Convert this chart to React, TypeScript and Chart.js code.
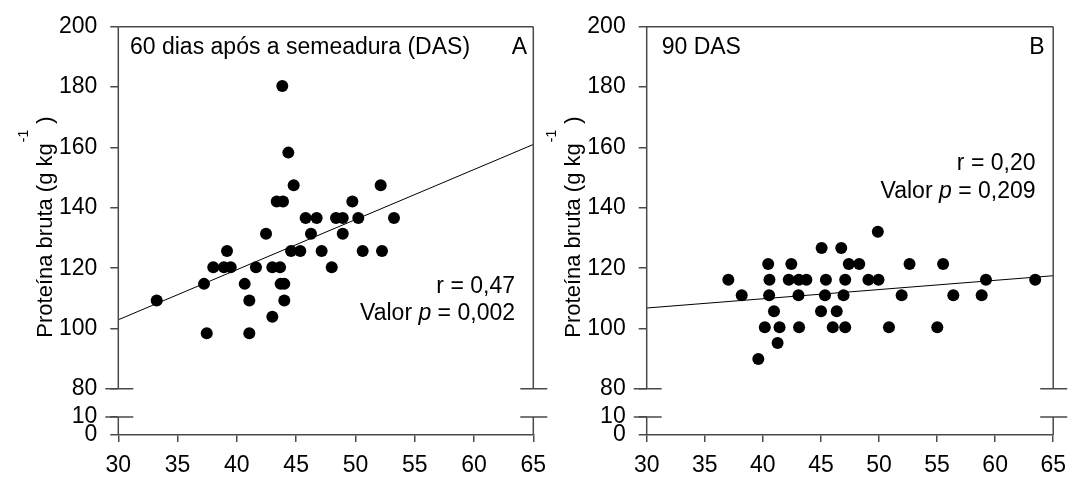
import React, { useEffect, useRef } from 'react';
import { Chart, registerables, LinearScale } from 'chart.js';

Chart.register(...registerables);

// ---- data ----
const X_TICKS = [30, 35, 40, 45, 50, 55, 60, 65];
const Y_TICKS = [0, 10, 80, 100, 120, 140, 160, 180, 200];
const Y_BREAK = [10, 80];

const xA = [43.83, 44.34, 44.79, 52.13, 43.36, 43.89, 49.74, 45.8, 46.73, 48.36, 48.93, 50.24, 53.25,
  42.46, 46.25, 48.93, 39.17, 44.57, 45.35, 47.15, 50.61, 52.24, 38.01, 38.91, 39.48, 41.61, 42.99,
  43.64, 48.0, 37.23, 40.66, 43.69, 44.0, 33.24, 41.05, 44.0, 42.99, 37.46, 41.05];
const yA = [180.4, 158.3, 147.5, 147.5, 142.1, 142.1, 142.1, 136.6, 136.6, 136.6, 136.6, 136.6, 136.6,
  131.4, 131.4, 131.4, 125.7, 125.7, 125.7, 125.7, 125.7, 125.7, 120.3, 120.3, 120.3, 120.3, 120.3,
  120.3, 120.3, 114.8, 114.8, 114.8, 114.8, 109.3, 109.3, 109.3, 103.9, 98.4, 98.4];
const fitXA = [30, 65];
const fitYA = [102.9, 161.0];

const xB = [49.9, 45.06, 46.75, 40.46, 42.45, 47.4, 48.3, 52.63, 55.52,
  37.03, 40.57, 42.23, 43.1, 43.75, 45.43, 47.09, 49.09, 49.96, 59.21, 63.45,
  38.18, 40.54, 43.07, 45.35, 46.95, 51.95, 56.4, 58.84,
  40.96, 45.01, 46.36, 40.17, 41.44, 43.12, 46.02, 47.09, 50.86, 55.02, 41.27, 39.61];
const yB = [132.1, 126.7, 126.7, 121.4, 121.4, 121.4, 121.4, 121.4, 121.4,
  116.2, 116.2, 116.2, 116.2, 116.2, 116.2, 116.2, 116.2, 116.2, 116.2, 116.2,
  111.0, 111.0, 111.0, 111.0, 111.0, 111.0, 111.0, 111.0,
  105.7, 105.7, 105.7, 100.4, 100.4, 100.4, 100.4, 100.4, 100.4, 100.4, 95.2, 89.9];
const fitXB = [30, 65];
const fitYB = [106.8, 117.5];

const Y_TITLE = 'Proteína bruta (g kg';
const Y_TITLE_SUP = '-1';
const Y_TITLE_END = ' )';

// ---- styles ----
const FONT = '"Liberation Sans", Arial, Helvetica, sans-serif';
const FS = 23;
const AX = '#4a4a4a';
const AXW = 1.5;

// Broken y scale: 0-10 at the bottom, gap, 80-200 above
const LOW_FRAC = 0.0443;
const GAP_FRAC = 0.0687;

class BrokenScale extends LinearScale {
  static id = 'brokenLinear';
  static defaults = (LinearScale as any).defaults;
  getPixelForValue(value: number) {
    if (value === null || value === undefined || isNaN(value)) return NaN;
    const top = (this as any).top;
    const bottom = (this as any).bottom;
    const H = bottom - top;
    const lowH = H * LOW_FRAC;
    const gapH = H * GAP_FRAC;
    const upH = H - lowH - gapH;
    const [b0, b1] = Y_BREAK;
    const mx = (this as any).max;
    if (value <= b0) return bottom - (value / b0) * lowH;
    if (value >= b1) return bottom - lowH - gapH - ((value - b1) / (mx - b1)) * upH;
    return bottom - lowH - ((value - b0) / (b1 - b0)) * gapH;
  }
  getValueForPixel(pixel: number) {
    const top = (this as any).top;
    const bottom = (this as any).bottom;
    const H = bottom - top;
    const lowH = H * LOW_FRAC;
    const gapH = H * GAP_FRAC;
    const upH = H - lowH - gapH;
    const [b0, b1] = Y_BREAK;
    const mx = (this as any).max;
    const d = bottom - pixel;
    if (d <= lowH) return (d / lowH) * b0;
    if (d <= lowH + gapH) return b0 + ((d - lowH) / gapH) * (b1 - b0);
    return b1 + ((d - lowH - gapH) / upH) * (mx - b1);
  }
}
Chart.register(BrokenScale as any);

type PanelCfg = {
  xs: number[]; ys: number[]; fitX: number[]; fitY: number[];
  canvasLeft: number; canvasWidth: number;
  yAxisWidth: number; padRight: number;
  title: string; titleDx: number;
  letter: string; letterDx: number;
  rText: string; pVal: string; statDx: number; rBase: number; pBase: number;
  yTitleX: number; yTitleCY: number;
};

function overlayPlugin(cfg: PanelCfg) {
  return {
    id: 'overlay',
    afterDraw(chart: any) {
      const { ctx, chartArea } = chart;
      const { left, right, top, bottom } = chartArea;
      const ys = chart.scales.y;
      const pHi = ys.getPixelForValue(Y_BREAK[1]);
      const pLo = ys.getPixelForValue(Y_BREAK[0]);
      ctx.save();
      ctx.strokeStyle = AX;
      ctx.lineWidth = AXW;
      ctx.beginPath();
      ctx.moveTo(left, top); ctx.lineTo(right, top);
      ctx.moveTo(left, top); ctx.lineTo(left, pHi);
      ctx.moveTo(left, pLo); ctx.lineTo(left, bottom);
      ctx.moveTo(right, top); ctx.lineTo(right, pHi);
      ctx.moveTo(right, pLo); ctx.lineTo(right, bottom);
      for (const p of [pHi, pLo]) {
        ctx.moveTo(left - 13, p); ctx.lineTo(left + 15, p);
        ctx.moveTo(right - 13, p); ctx.lineTo(right + 14, p);
      }
      ctx.stroke();

      ctx.fillStyle = '#000';
      ctx.textBaseline = 'alphabetic';
      ctx.font = `${FS}px ${FONT}`;
      ctx.textAlign = 'left';
      ctx.fillText(cfg.title, left + cfg.titleDx, top + 27);
      ctx.textAlign = 'right';
      ctx.fillText(cfg.letter, right - cfg.letterDx, top + 27);

      // r text
      const sx = right - cfg.statDx;
      ctx.fillText(cfg.rText, sx, cfg.rBase);
      // p text with italic p
      ctx.textAlign = 'left';
      const seg1 = 'Valor ';
      const seg3 = ' = ' + cfg.pVal;
      ctx.font = `${FS}px ${FONT}`;
      const w1 = ctx.measureText(seg1).width;
      const w3 = ctx.measureText(seg3).width;
      ctx.font = `italic ${FS}px ${FONT}`;
      const w2 = ctx.measureText('p').width;
      const x0 = sx - (w1 + w2 + w3);
      ctx.font = `${FS}px ${FONT}`;
      ctx.fillText(seg1, x0, cfg.pBase);
      ctx.font = `italic ${FS}px ${FONT}`;
      ctx.fillText('p', x0 + w1, cfg.pBase);
      ctx.font = `${FS}px ${FONT}`;
      ctx.fillText(seg3, x0 + w1 + w2, cfg.pBase);

      // y axis title with superscript
      ctx.save();
      ctx.translate(cfg.yTitleX, cfg.yTitleCY);
      ctx.rotate(-Math.PI / 2);
      ctx.font = `22px ${FONT}`;
      const wm = ctx.measureText(Y_TITLE).width;
      const we = ctx.measureText(Y_TITLE_END).width;
      ctx.font = `14px ${FONT}`;
      const ws = ctx.measureText(Y_TITLE_SUP).width;
      const tot = wm + ws + we + 1;
      let u = -tot / 2;
      ctx.textAlign = 'left';
      ctx.font = `22px ${FONT}`;
      ctx.fillText(Y_TITLE, u, 0);
      u += wm + 1;
      ctx.font = `14px ${FONT}`;
      ctx.fillText(Y_TITLE_SUP, u, -24);
      u += ws;
      ctx.font = `22px ${FONT}`;
      ctx.fillText(Y_TITLE_END, u, 0);
      ctx.restore();

      ctx.restore();
    },
  };
}

function Panel({ cfg }: { cfg: PanelCfg }) {
  const ref = useRef<HTMLCanvasElement>(null);
  useEffect(() => {
    if (!ref.current) return;
    const tickFont = { family: FONT, size: FS };
    const chart = new Chart(ref.current, {
      type: 'scatter',
      data: {
        datasets: [
          {
            type: 'scatter',
            data: cfg.xs.map((x, i) => ({ x, y: cfg.ys[i] })),
            backgroundColor: '#000',
            borderColor: '#000',
            pointRadius: 6,
            borderWidth: 0,
            order: 0,
          } as any,
          {
            type: 'line',
            data: cfg.fitX.map((x, i) => ({ x, y: cfg.fitY[i] })),
            borderColor: '#000',
            borderWidth: 1,
            pointRadius: 0,
            fill: false,
            order: 1,
          } as any,
        ],
      },
      options: {
        responsive: false,
        animation: false,
        devicePixelRatio: 1,
        layout: { padding: { left: 0, top: 21.7, right: cfg.padRight, bottom: 0 } },
        plugins: { legend: { display: false }, tooltip: { enabled: false } },
        scales: {
          x: {
            type: 'linear',
            min: X_TICKS[0],
            max: X_TICKS[X_TICKS.length - 1],
            afterBuildTicks: (s: any) => { s.ticks = X_TICKS.map((v) => ({ value: v })); },
            afterFit: (s: any) => { s.height = 44; },
            grid: { drawOnChartArea: false, drawTicks: true, tickLength: 7, color: AX, lineWidth: AXW },
            border: { display: true, color: AX, width: AXW },
            ticks: { color: '#000', font: tickFont, padding: 10, maxRotation: 0, autoSkip: false },
          },
          y: {
            type: 'brokenLinear' as any,
            min: 0,
            max: 200,
            afterBuildTicks: (s: any) => { s.ticks = Y_TICKS.map((v) => ({ value: v })); },
            afterFit: (s: any) => { s.width = cfg.yAxisWidth; },
            grid: { drawOnChartArea: false, drawTicks: true, tickLength: 8, color: AX, lineWidth: AXW },
            border: { display: false },
            ticks: { color: '#000', font: tickFont, padding: 13, autoSkip: false },
          } as any,
        },
      } as any,
      plugins: [overlayPlugin(cfg)],
    });
    return () => chart.destroy();
  }, []);
  return (
    <canvas
      ref={ref}
      width={cfg.canvasWidth}
      height={479}
      style={{ position: 'absolute', left: cfg.canvasLeft, top: 0, width: cfg.canvasWidth, height: 479 }}
    />
  );
}

const panelA: PanelCfg = {
  xs: xA, ys: yA, fitX: fitXA, fitY: fitYA,
  canvasLeft: 0, canvasWidth: 560,
  yAxisWidth: 118.3, padRight: 560 - 533.3,
  title: '60 dias após a semeadura (DAS)', titleDx: 11.7,
  letter: 'A', letterDx: 6.3,
  rText: 'r = 0,47', pVal: '0,002', statDx: 18.3, rBase: 293, pBase: 320,
  yTitleX: 51.7, yTitleCY: 227,
};

const panelB: PanelCfg = {
  xs: xB, ys: yB, fitX: fitXB, fitY: fitYB,
  canvasLeft: 538, canvasWidth: 538,
  yAxisWidth: 646.7 - 538, padRight: 538 - (1061.7 - 538),
  title: '90 DAS', titleDx: 15,
  letter: 'B', letterDx: 8.7,
  rText: 'r = 0,20', pVal: '0,209', statDx: 17.7, rBase: 170, pBase: 198,
  yTitleX: 51.7 + 528.4 - 538, yTitleCY: 227,
};

export default function App() {
  return (
    <div style={{ position: 'absolute', left: 0, top: 0, width: 1076, height: 479, background: '#fff' }}>
      <Panel cfg={panelA} />
      <Panel cfg={panelB} />
    </div>
  );
}
